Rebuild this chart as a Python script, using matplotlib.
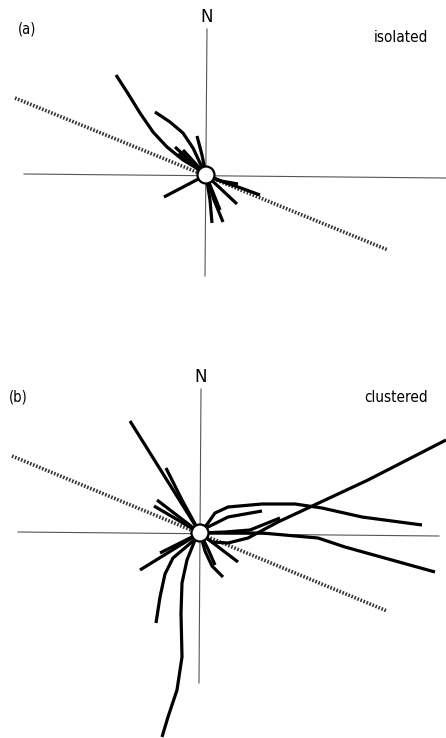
import numpy as np
import matplotlib
matplotlib.use("Agg")
import matplotlib.pyplot as plt
from matplotlib.patches import Circle

W, H = 446, 738

# panel origins (pixels) and labels
origins = {"a": (206, 175), "b": (200, 533)}
labels = {"a": "isolated", "b": "clustered"}

# preferred direction (dotted line) end points, offsets east/north of origin
axis_a = [(-191, 77), (182, -75)]
axis_b = [(-188, 77), (187, -78)]

# trajectories, offsets east / north from the release point
tracks_a = [
    [(-90, 100), (-79, 83), (-66, 62), (-53, 43), (-39, 28), (-23, 15), (-6, 5), (0, 0)],
    [(-51, 63), (-36, 53), (-23, 42), (-13, 27), (-6, 12), (0, 0)],
    [(-9, 39), (-4, 20), (0, 0)],
    [(-31, 28), (0, 0)],
    [(-23, 25), (0, 0)],
    [(-28, 21), (0, 0)],
    [(-42, -22), (0, 0)],
    [(0, 0), (4, -25), (6, -48)],
    [(0, 0), (8, -25), (17, -47)],
    [(0, 0), (14, -35)],
    [(0, 0), (31, -29)],
    [(0, 0), (15, -6), (32, -9)],
    [(0, 0), (20, -8), (35, -13), (54, -20)],
]

tracks_b = [
    [(-70, 112), (0, 0)],
    [(-34, 65), (-18, 33), (0, 0)],
    [(-43, 33), (0, 0)],
    [(-46, 27), (0, 0)],
    [(0, 0), (12, -9), (28, -10), (48, -5), (78, 11), (168, 53), (246, 93)],
    [(0, 0), (8, 10), (15, 20), (28, 26), (62, 29), (95, 29), (122, 25), (162, 16), (222, 8)],
    [(0, 0), (8, 6), (28, 16), (62, 22)],
    [(0, 0), (25, 1), (50, 3), (80, 15)],
    [(0, 0), (62, 0), (118, -5), (145, -14), (235, -39)],
    [(0, 0), (38, -29)],
    [(0, 0), (5, -18), (12, -33), (23, -44)],
    [(0, 0), (8, -16), (15, -32)],
    [(-60, -37), (0, 0)],
    [(-40, -20), (0, 0)],
    [(0, 0), (-7, -8), (-27, -25), (-35, -41), (-40, -64), (-44, -90)],
    [(0, 0), (-5, -7), (-13, -27), (-18, -50), (-19, -80), (-18, -124),
     (-23, -157), (-32, -184), (-38, -204)],
]

# compass cross, offsets (west/east, north/south extent)
cross_a = {"x": (-182, 240), "y": (146, -101)}
cross_b = {"x": (-182, 239), "y": (144, -150)}

fig = plt.figure(figsize=(W / 100, H / 100), dpi=100)
ax = fig.add_axes([0, 0, 1, 1])
ax.set_xlim(0, W)
ax.set_ylim(H, 0)
ax.axis("off")


def draw_panel(key, tracks, pref, cross, tag):
    ox, oy = origins[key]
    # compass cross
    ax.plot([ox + cross["x"][0], ox + cross["x"][1]], [oy - 1, oy + 3],
            color="#555555", lw=0.8, zorder=1)
    ax.plot([ox + 1, ox - 1], [oy - cross["y"][0], oy - cross["y"][1]],
            color="#555555", lw=0.8, zorder=1)
    # preferred direction
    px = [ox + p[0] for p in pref]
    py = [oy - p[1] for p in pref]
    ax.plot(px, py, color="#333333", lw=2.6, ls=(0, (0.45, 0.45)), zorder=2)
    for t in tracks:
        t = np.array(t, dtype=float)
        ax.plot(ox + t[:, 0], oy - t[:, 1], color="black", lw=2.3,
                solid_capstyle="butt", solid_joinstyle="round", zorder=3)
    ax.add_patch(Circle((ox, oy), 8.5, facecolor="white", edgecolor="black",
                        lw=1.6, zorder=4))
    ax.text(ox + 1, oy - cross["y"][0] - 3, "N", ha="center", va="bottom",
            fontsize=12, family="DejaVu Sans")
    ax.text(428, oy - 137 if key == "a" else oy - 136, labels[key], ha="right",
            va="center", fontsize=11, family="DejaVu Sans", fontstretch="condensed")
    ax.text(tag[0], tag[1], "(" + key + ")", ha="left", va="center",
            fontsize=10.5, family="DejaVu Sans", fontstretch="condensed")


draw_panel("a", tracks_a, axis_a, cross_a, (18, 29))
draw_panel("b", tracks_b, axis_b, cross_b, (9, 397))

fig.savefig("out.png", dpi=100)
